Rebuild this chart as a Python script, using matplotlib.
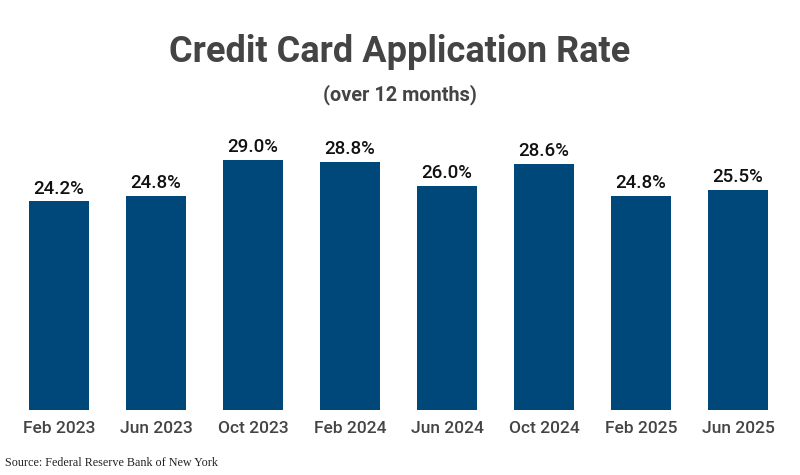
import matplotlib.pyplot as plt

months = ['Feb 2023', 'Jun 2023', 'Oct 2023', 'Feb 2024',
          'Jun 2024', 'Oct 2024', 'Feb 2025', 'Jun 2025']
rates = [24.2, 24.8, 29.0, 28.8, 26.0, 28.6, 24.8, 25.5]

fig = plt.figure(figsize=(8, 4.75), dpi=100)
ax = fig.add_axes([10.5 / 800, 65 / 475, 776 / 800, 293 / 475])

bars = ax.bar(range(len(months)), rates, width=0.62, color='#00487a')
for b, v in zip(bars, rates):
    ax.text(b.get_x() + b.get_width() / 2, v + 0.45, f'{v:.1f}%',
            ha='center', va='bottom', fontsize=13.5, family='Roboto',
            fontweight='medium', color='#111111')

ax.set_xlim(-0.5, len(months) - 0.5)
ax.set_ylim(0, 34)
ax.set_xticks(range(len(months)))
ax.set_xticklabels(months, fontsize=12.5, family='Roboto', fontweight='medium',
                   color='#444444')
ax.tick_params(axis='x', length=0, pad=8)
ax.set_yticks([])
for s in ax.spines.values():
    s.set_visible(False)

fig.text(0.5, 1 - 52 / 475, 'Credit Card Application Rate', ha='center', va='center',
         fontsize=26, fontweight='bold', family='Roboto', color='#444444')
fig.text(0.5, 1 - 95 / 475, '(over 12 months)', ha='center', va='center',
         fontsize=14.3, fontweight='bold', family='Roboto', color='#444444')
fig.text(5 / 800, 1 - 463 / 475, 'Source: Federal Reserve Bank of New York',
         ha='left', va='center', fontsize=8.7, family='Liberation Serif', color='#222222')

fig.savefig('out.png', dpi=100)
